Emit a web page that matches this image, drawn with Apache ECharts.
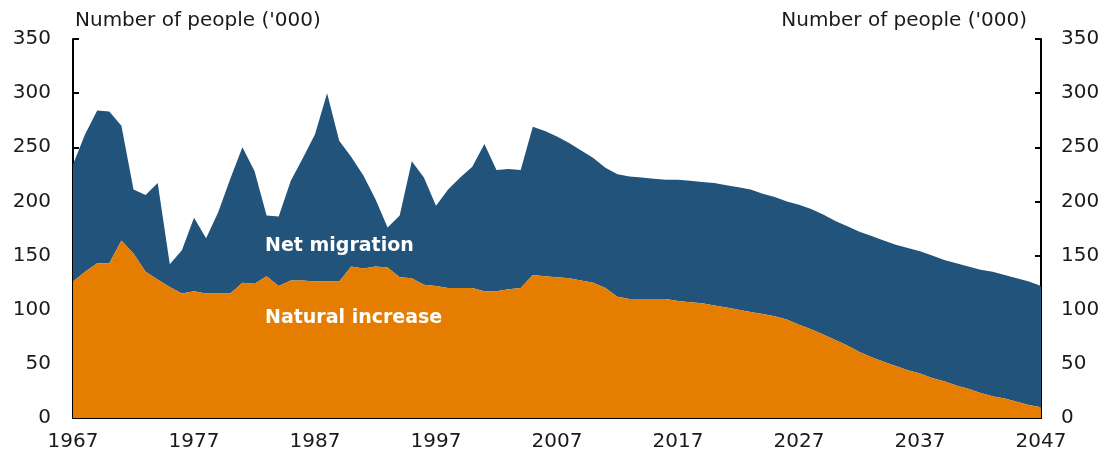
<!DOCTYPE html>
<html>
<head>
<meta charset="utf-8">
<script src="https://cdn.jsdelivr.net/npm/echarts@6/dist/echarts.min.js"></script>
<style>
html,body{margin:0;padding:0;background:#fff;}
#chart{width:1105px;height:464px;}
</style>
</head>
<body>
<div id="chart"></div>
<script>
const years = [];
for (let y = 1967; y <= 2047; y++) years.push(String(y));

const naturalIncrease = [
126,135,143,143,164,152,135,128,121,115,
117,115,115,115,125,124,131,122,127,127,
126,126,126,140,138,140,139,130,129,123,
122,120,120,120,117,117,119,120,132,131,
130,129,127,125,120,112,110,110,110,110,
108,107,106,104,102,100,98,96,94,91,
86,82,77,72,67,61,56,52,48,44,
41,37,34,30,27,23,20,18,15,12,
10
];

const netMigration = [
108,127,141,140,106,59,71,89,21,40,
68,51,75,106,125,104,56,64,92,113,
136,174,130,101,86,62,37,57,108,99,
74,91,102,112,136,112,111,109,137,134,
130,125,120,115,111,113,113,112,111,110,
112,112,112,113,113,113,113,111,110,109,
111,111,111,110,110,111,112,112,112,113,
113,113,112,113,113,114,115,114,114,114,
112
];

const yTicks = { min: 0, max: 350, interval: 50 };
const axisTitle = "Number of people ('000)";
const seriesNames = ['Natural increase', 'Net migration'];

const FONT = '"DejaVu Sans", "Liberation Sans", Arial, sans-serif';
const TXT = '#1a1a1a';

const chart = echarts.init(document.getElementById('chart'), null, {renderer: 'canvas'});

const yAxisCommon = {
  type: 'value',
  min: yTicks.min, max: yTicks.max, interval: yTicks.interval,
  splitLine: {show: false},
  axisLine: {show: true, lineStyle: {color: '#000', width: 2}},
  axisTick: {show: true, inside: true, length: 6, lineStyle: {color: '#000', width: 2}},
  axisLabel: {color: TXT, fontFamily: FONT, fontSize: 20, margin: 22}
};

chart.setOption({
  animation: false,
  backgroundColor: '#fff',
  grid: {left: 73, right: 64, top: 39, bottom: 46, containLabel: false},
  xAxis: {
    type: 'category',
    data: years,
    boundaryGap: false,
    axisLine: {show: true, lineStyle: {color: '#000', width: 2}},
    axisTick: {show: true, inside: true, length: 6, interval: 9, lineStyle: {color: '#000', width: 2}},
    axisLabel: {interval: 9, color: TXT, fontFamily: FONT, fontSize: 20, margin: 14},
    splitLine: {show: false}
  },
  yAxis: [
    Object.assign({}, yAxisCommon, {position: 'left'}),
    Object.assign({}, yAxisCommon, {position: 'right', axisLabel: Object.assign({}, yAxisCommon.axisLabel, {margin: 20})})
  ],
  series: [
    {
      name: seriesNames[0], type: 'line', stack: 'total', data: naturalIncrease,
      showSymbol: false, symbol: 'none',
      lineStyle: {width: 0}, areaStyle: {color: '#E57E00', opacity: 1},
      itemStyle: {color: '#E57E00'}, z: 2
    },
    {
      name: seriesNames[1], type: 'line', stack: 'total', data: netMigration,
      showSymbol: false, symbol: 'none',
      lineStyle: {width: 0}, areaStyle: {color: '#22537A', opacity: 1},
      itemStyle: {color: '#22537A'}, z: 1
    }
  ],
  graphic: [
    {type: 'text', z: 100, left: 75, top: 11, style: {text: axisTitle, fill: TXT, font: '20px ' + FONT}},
    {type: 'text', z: 100, right: 78, top: 11, style: {text: axisTitle, fill: TXT, font: '20px ' + FONT}},
    {type: 'text', z: 100, left: 265, top: 237, style: {text: seriesNames[1], fill: '#fff', font: 'bold 19px ' + FONT}},
    {type: 'text', z: 100, left: 265, top: 309, style: {text: seriesNames[0], fill: '#fff', font: 'bold 19px ' + FONT}}
  ]
});
</script>
</body>
</html>
